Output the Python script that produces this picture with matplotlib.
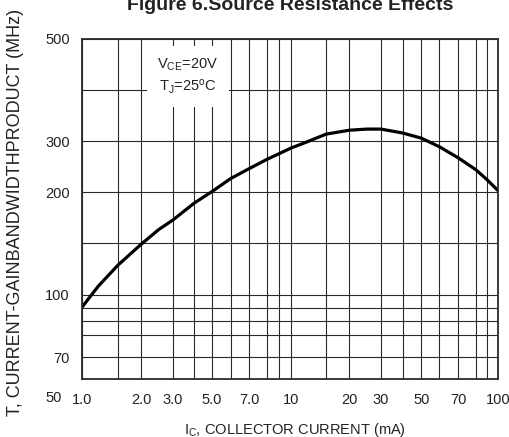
import numpy as np
import matplotlib
matplotlib.use('Agg')
import matplotlib.pyplot as plt
from matplotlib.ticker import FixedLocator, FixedFormatter, NullFormatter

plt.rcParams['font.family'] = ['Liberation Sans', 'DejaVu Sans']
plt.rcParams['mathtext.fontset'] = 'custom'
plt.rcParams['mathtext.rm'] = 'Liberation Sans'
plt.rcParams['mathtext.it'] = 'Liberation Sans'

# curve
ic_ma = [1, 1.2, 1.5, 2, 2.5, 3, 4, 5, 6, 7, 8, 9, 10, 12, 15, 20, 25, 30, 40, 50,
         60, 70, 80, 90, 100]
ft_mhz = [91, 107, 126, 149, 162, 171, 188, 201, 223, 241, 260, 271, 284, 298, 312,
          319, 321, 321, 314, 305, 287, 263, 239, 220, 202]

x_major = [1, 2, 3, 5, 7, 10, 20, 30, 50, 70, 100]
x_labels = ['1.0', '2.0', '3.0', '5.0', '7.0', '10', '20', '30', '50', '70', '100']
x_minor = [1.5, 4, 6, 8, 9, 15, 40, 60, 80, 90]
y_major = [70, 100, 200, 300, 500]
y_labels = ['70', '100', '200', '300', '500']
y_minor = [75, 80, 90, 150, 400]

# the printed grid is not a true log grid: where each grid value sits (0..1 of the axis)
x_grid = [1, 1.5, 2, 3, 4, 5, 6, 7, 8, 9, 10, 15, 20, 30, 40, 50, 60, 70, 80, 90, 100]
x_grid_pos = [0.0, 0.085, 0.142, 0.218, 0.269, 0.312, 0.357, 0.401, 0.445, 0.472,
              0.502, 0.586, 0.642, 0.718, 0.770, 0.815, 0.858, 0.903, 0.946, 0.974, 1.0]
y_grid = [50, 70, 75, 80, 90, 100, 150, 200, 300, 400, 500]
y_grid_pos = [0.0, 0.065, 0.130, 0.170, 0.209, 0.248, 0.400, 0.550, 0.700, 0.850, 1.0]


def warped(vals, pos):
    lv = np.log10(vals)

    def fwd(v):
        v = np.clip(np.asarray(v, dtype=float), 1e-9, None)
        return np.interp(np.log10(v), lv, pos)

    def inv(p):
        return 10 ** np.interp(np.asarray(p, dtype=float), pos, lv)

    return fwd, inv


fig = plt.figure(figsize=(5.09, 4.37), dpi=100)
ax = fig.add_axes([82.3 / 509, 1 - 379.3 / 437, 416 / 509, 340.3 / 437])

ax.set_xscale('function', functions=warped(x_grid, x_grid_pos))
ax.set_yscale('function', functions=warped(y_grid, y_grid_pos))
ax.set_xlim(1, 100)
ax.set_ylim(50, 500)

ax.plot(ic_ma, ft_mhz, color='black', lw=2.3, solid_joinstyle='round', zorder=2)

ax.xaxis.set_major_locator(FixedLocator(x_major))
ax.xaxis.set_major_formatter(FixedFormatter(x_labels))
ax.xaxis.set_minor_locator(FixedLocator(x_minor))
ax.xaxis.set_minor_formatter(NullFormatter())
ax.yaxis.set_major_locator(FixedLocator(y_major))
ax.yaxis.set_major_formatter(FixedFormatter(y_labels))
ax.yaxis.set_minor_locator(FixedLocator(y_minor))
ax.yaxis.set_minor_formatter(NullFormatter())

ax.grid(which='both', color='#2a2a2a', lw=0.8)
ax.tick_params(which='both', length=0, labelsize=10.5, colors='#222222')
ax.tick_params(axis='x', pad=10)
ax.tick_params(axis='y', pad=9)
for s in ax.spines.values():
    s.set_color('#2a2a2a')
    s.set_linewidth(1.3)

ax.text(0.254, 0.89, 'V$_{\\rm CE}$=20V\nT$_{\\rm J}$=25$^{\\rm o}$C', transform=ax.transAxes,
        ha='center', va='center', fontsize=10.5, color='#222222', linespacing=1.3,
        bbox=dict(facecolor='white', edgecolor='none', boxstyle='square,pad=0.75'))

fig.text(62 / 509, 1 - 398 / 437, '50', ha='right', va='center', fontsize=10.5, color='#222222')
fig.text(290 / 509, 1 - 10 / 437, 'Figure 6.Source Resistance Effects', ha='center',
         va='baseline', fontsize=14, fontweight='bold', color='#222222')
fig.text(295 / 509, 1 - 430 / 437, 'I$_{\\rm C}$, COLLECTOR CURRENT (mA)', ha='center',
         va='center', fontsize=10.5, color='#222222')
fig.text(16 / 509, 1 - 212 / 437, 'T, CURRENT-GAINBANDWIDTHPRODUCT (MHz)', rotation=90,
         ha='center', va='center', fontsize=13, color='#222222')

fig.savefig('out.png', dpi=100)
